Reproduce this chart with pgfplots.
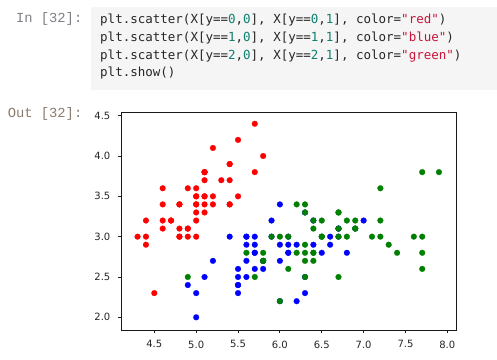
\documentclass[border=0pt]{standalone}
\usepackage{fontspec}
\usepackage{pgfplots}
\pgfplotsset{compat=1.18}
\setmainfont{DejaVu Sans}
\newfontfamily\codefont{DejaVu Sans Mono}
\newfontfamily\promptfont{Liberation Mono}
\newfontfamily\mplfont{DejaVu Sans}
\definecolor{cellbg}{HTML}{F5F5F5}
\definecolor{strcol}{HTML}{C8143A}
\definecolor{numcol}{HTML}{118070}
\definecolor{incol}{HTML}{7F7F85}
\definecolor{outcol}{HTML}{8A7C6E}
\definecolor{mplgreen}{HTML}{008000}
\newcommand{\s}[1]{\textcolor{strcol}{#1}}
\newcommand{\n}[1]{\textcolor{numcol}{#1}}
\begin{document}
\begin{tikzpicture}
\path[use as bounding box] (0,0) rectangle (497bp,360bp);
\fill[white] (0,0) rectangle (497bp,360bp);
\fill[cellbg] (91bp,270bp) rectangle (497bp,353bp);
\node[anchor=base east, inner sep=0pt, text=incol] at (82.5bp,337.5bp) {\promptfont\fontsize{13.8bp}{15bp}\selectfont In [32]:};
\node[anchor=base east, inner sep=0pt, text=outcol] at (82.5bp,242.7bp) {\promptfont\fontsize{13.8bp}{15bp}\selectfont Out [32]:};
\begin{scope}[every node/.style={anchor=base west, inner sep=0pt, text=black!85}]
\node at (100bp,336.5bp) {\codefont\fontsize{12.5bp}{15bp}\selectfont plt.scatter(X[y==\n{0},\n{0}], X[y==\n{0},\n{1}], color=\s{"red"})};
\node at (100bp,318.7bp) {\codefont\fontsize{12.5bp}{15bp}\selectfont plt.scatter(X[y==\n{1},\n{0}], X[y==\n{1},\n{1}], color=\s{"blue"})};
\node at (100bp,300.9bp) {\codefont\fontsize{12.5bp}{15bp}\selectfont plt.scatter(X[y==\n{2},\n{0}], X[y==\n{2},\n{1}], color=\s{"green"})};
\node at (100bp,283.1bp) {\codefont\fontsize{12.5bp}{15bp}\selectfont plt.show()};
\end{scope}
\begin{axis}[
  at={(121bp,30bp)}, anchor=south west,
  scale only axis, width=335.7bp, height=217.7bp,
  xmin=4.102, xmax=8.112, ymin=1.8425, ymax=4.542,
  xtick={4.5,5.0,5.5,6.0,6.5,7.0,7.5,8.0},
  ytick={2.0,2.5,3.0,3.5,4.0,4.5},
  tick align=outside, major tick length=3.5bp,
  xtick pos=bottom, ytick pos=left,
  axis line style={line width=0.8bp, black!90},
  every tick/.style={line width=0.8bp, black!90},
  tick label style={font=\mplfont\fontsize{10bp}{12bp}\selectfont, text=black!85, inner sep=0pt},
  xticklabel style={anchor=north, yshift=-7bp},
  yticklabel style={anchor=east, xshift=-7bp},
  /pgf/number format/.cd, fixed, fixed zerofill, precision=1, assume math mode=true,
]
\addplot[only marks, mark=*, mark size=2.9bp, color=red, mark options={line width=0.2bp}] coordinates {
(5.1,3.5)(4.9,3.0)(4.7,3.2)(4.6,3.1)(5.0,3.6)(5.4,3.9)(4.6,3.4)(5.0,3.4)(4.4,2.9)(4.9,3.1)
(5.4,3.7)(4.8,3.4)(4.8,3.0)(4.3,3.0)(5.8,4.0)(5.7,4.4)(5.4,3.9)(5.1,3.5)(5.7,3.8)(5.1,3.8)
(5.4,3.4)(5.1,3.7)(4.6,3.6)(5.1,3.3)(4.8,3.4)(5.0,3.0)(5.0,3.4)(5.2,3.5)(5.2,3.4)(4.7,3.2)
(4.8,3.1)(5.4,3.4)(5.2,4.1)(5.5,4.2)(4.9,3.1)(5.0,3.2)(5.5,3.5)(4.9,3.6)(4.4,3.0)(5.1,3.4)
(5.0,3.5)(4.5,2.3)(4.4,3.2)(5.0,3.5)(5.1,3.8)(4.8,3.0)(5.1,3.8)(4.6,3.2)(5.3,3.7)(5.0,3.3)
};
\addplot[only marks, mark=*, mark size=2.9bp, color=blue, mark options={line width=0.2bp}] coordinates {
(7.0,3.2)(6.4,3.2)(6.9,3.1)(5.5,2.3)(6.5,2.8)(5.7,2.8)(6.3,3.3)(4.9,2.4)(6.6,2.9)(5.2,2.7)
(5.0,2.0)(5.9,3.0)(6.0,2.2)(6.1,2.9)(5.6,2.9)(6.7,3.1)(5.6,3.0)(5.8,2.7)(6.2,2.2)(5.6,2.5)
(5.9,3.2)(6.1,2.8)(6.3,2.5)(6.1,2.8)(6.4,2.9)(6.6,3.0)(6.8,2.8)(6.7,3.0)(6.0,2.9)(5.7,2.6)
(5.5,2.4)(5.5,2.4)(5.8,2.7)(6.0,2.7)(5.4,3.0)(6.0,3.4)(6.7,3.1)(6.3,2.3)(5.6,3.0)(5.5,2.5)
(5.5,2.6)(6.1,3.0)(5.8,2.6)(5.0,2.3)(5.6,2.7)(5.7,3.0)(5.7,2.9)(6.2,2.9)(5.1,2.5)(5.7,2.8)
};
\addplot[only marks, mark=*, mark size=2.9bp, color=mplgreen, mark options={line width=0.2bp}] coordinates {
(6.3,3.3)(5.8,2.7)(7.1,3.0)(6.3,2.9)(6.5,3.0)(7.6,3.0)(4.9,2.5)(7.3,2.9)(6.7,2.5)(7.2,3.6)
(6.5,3.2)(6.4,2.7)(6.8,3.0)(5.7,2.5)(5.8,2.8)(6.4,3.2)(6.5,3.0)(7.7,3.8)(7.7,2.6)(6.0,2.2)
(6.9,3.2)(5.6,2.8)(7.7,2.8)(6.3,2.7)(6.7,3.3)(7.2,3.2)(6.2,2.8)(6.1,3.0)(6.4,2.8)(7.2,3.0)
(7.4,2.8)(7.9,3.8)(6.4,2.8)(6.3,2.8)(6.1,2.6)(7.7,3.0)(6.3,3.4)(6.4,3.1)(6.0,3.0)(6.9,3.1)
(6.7,3.1)(6.9,3.1)(5.8,2.7)(6.8,3.2)(6.7,3.3)(6.7,3.0)(6.3,2.5)(6.5,3.0)(6.2,3.4)(5.9,3.0)
};
\end{axis}
\end{tikzpicture}
\end{document}
